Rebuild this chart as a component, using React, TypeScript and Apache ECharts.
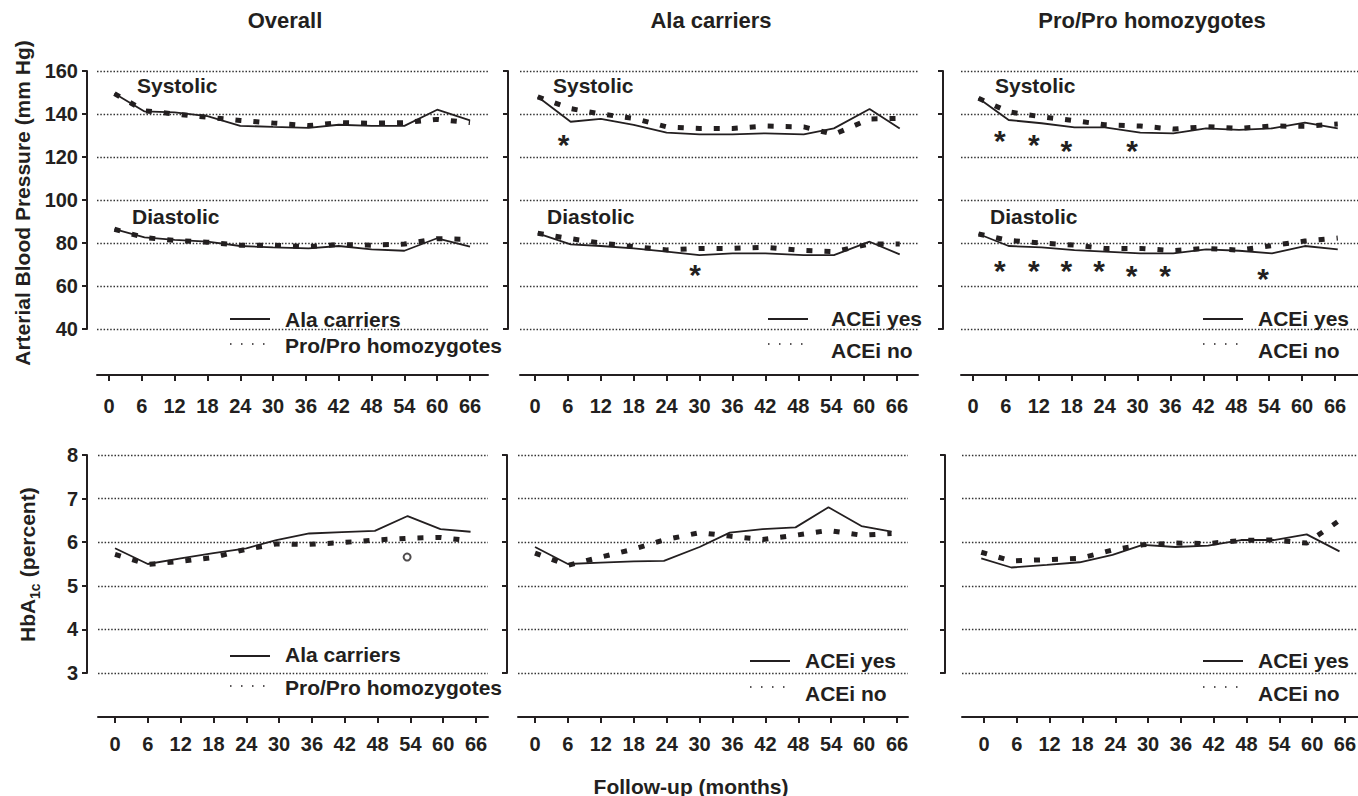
import React, { useEffect, useRef } from "react";
import * as echarts from "echarts";

const FONT = "'Liberation Sans', Arial, Helvetica, sans-serif";
const INK = "#231f20";

// ---------- data ----------
const xTicks = [0, 6, 12, 18, 24, 30, 36, 42, 48, 54, 60, 66];
const panelTitles = ["Overall", "Ala carriers", "Pro/Pro homozygotes"];
const overallNames = ["Ala carriers", "Pro/Pro homozygotes"];
const aceNames = ["ACEi yes", "ACEi no"];

// months at which values were plotted (per panel)
const monthsTopOverall = [1, 6.5, 12, 18, 24, 30, 36.5, 42, 48, 54, 60, 66];
const monthsTopAla = [0.5, 6.5, 12, 18, 24, 30, 36, 42, 49, 54.5, 61, 66.5];
const monthsTopPro = [1, 6.5, 12.5, 18.5, 24, 30.5, 36.5, 42.5, 48.5, 54.5, 60.5, 66.5];
const monthsBotOverall = [0, 6, 12, 18, 24, 29.5, 35.5, 41.5, 47.5, 53.5, 59.5, 65];
const monthsBotAla = [0, 6, 12, 18, 23.5, 30, 35.5, 41.5, 47.5, 53.5, 59.5, 65];
const monthsBotPro = [-0.5, 5, 11.5, 17.5, 23.5, 29, 35, 41, 47, 53, 59, 65];

// Overall: Ala carriers vs Pro/Pro homozygotes
const sysOverallAla = [149.5, 141.2, 140.8, 139, 134.5, 134, 133.5, 135, 134.5, 134.5, 142, 137];
const sysOverallPro = [149.5, 141.5, 140, 138.5, 137, 135.8, 134.6, 136, 135.7, 136, 137.5, 136];
const diaOverallAla = [86.4, 82.6, 81.5, 80.6, 78.6, 78, 77.5, 78.6, 77, 76.4, 82.2, 78.3];
const diaOverallPro = [86.4, 82.5, 81.2, 80.4, 79, 79, 78.3, 79.3, 79, 79.5, 82, 81.7];
const hbaOverallAla = [5.86, 5.5, 5.63, 5.75, 5.86, 6.05, 6.2, 6.23, 6.26, 6.6, 6.3, 6.24];
const hbaOverallPro = [5.72, 5.49, 5.56, 5.65, 5.84, 5.96, 5.95, 5.99, 6.05, 6.09, 6.11, 6.03];

// Ala carriers: ACEi yes vs no
const sysAlaYes = [148, 136.4, 137.7, 134.9, 131.3, 130.5, 130.5, 131, 130.5, 133.3, 142.3, 133.3];
const sysAlaNo = [148, 142.5, 140, 138, 134, 133.3, 133.3, 134.4, 134, 130.5, 137.7, 138];
const diaAlaYes = [84.5, 79.4, 78.6, 77.5, 76, 74.4, 75.2, 75.2, 74.4, 74.4, 80.6, 74.7];
const diaAlaNo = [84.5, 82, 80, 78.3, 76.8, 77.5, 77.5, 78, 76.5, 76, 79.5, 79.5];
const hbaAlaYes = [5.89, 5.5, 5.53, 5.56, 5.57, 5.89, 6.22, 6.3, 6.34, 6.8, 6.37, 6.24];
const hbaAlaNo = [5.75, 5.47, 5.66, 5.84, 6.05, 6.22, 6.14, 6.06, 6.16, 6.27, 6.16, 6.2];

// Pro/Pro homozygotes: ACEi yes vs no
const sysProYes = [147.3, 137.2, 135.7, 133.8, 133.8, 131.3, 131, 133.3, 132.6, 133.3, 136, 133.3];
const sysProNo = [147.3, 141, 138.7, 136.9, 135, 134.4, 133, 134.1, 133.3, 134.4, 134.3, 135.3];
const diaProYes = [84.2, 78.6, 78, 76.7, 76, 75.2, 75.2, 77, 76.4, 75.2, 78.6, 77];
const diaProNo = [84.2, 81.2, 80, 79, 77.5, 77.5, 76.5, 77.5, 76.7, 78.8, 80.9, 82.3];
const hbaProYes = [5.63, 5.42, 5.48, 5.54, 5.71, 5.94, 5.89, 5.92, 6.05, 6.05, 6.18, 5.79];
const hbaProNo = [5.77, 5.57, 5.6, 5.63, 5.82, 5.94, 5.98, 5.97, 6.04, 6.05, 5.98, 6.5];

// significance markers (month, value)
const starsAla = [[5.2, 129.4], [29.2, 69.0]];
const starsPro = [
  [4.9, 131.3], [11.1, 129.4], [17, 126.7], [29, 126.7],
  [4.9, 70.8], [11.1, 70.8], [17, 70.8], [23, 70.8], [28.9, 68.5], [35, 68.5], [52.9, 67.4],
];
const circleOverall = [[53.4, 5.66]];

// ---------- layout ----------
const TOP_Y = 71, TOP_H = 258, BOT_Y = 455, BOT_H = 218;
const gridsTop = [
  { left: 97, width: 391, yOff: 10, xMin: -2.19, xMax: 69.29 },
  { left: 520, width: 398, yOff: 12, xMin: -2.73, xMax: 69.83 },
  { left: 961, width: 397, yOff: 18, xMin: -2.19, xMax: 70.19 },
];
const gridsBot = [
  { left: 98, width: 390, yOff: 11, xMin: -3.11, xMax: 68.19 },
  { left: 518, width: 390, yOff: 11, xMin: -3.1, xMax: 68.0 },
  { left: 962, width: 396, yOff: 17, xMin: -4.02, xMax: 68.38 },
];

const pairs = (m: number[], v: number[]) => m.map((x, i) => [x, v[i]]);

function buildOption() {
  const grid: any[] = [];
  const xAxis: any[] = [];
  const yAxis: any[] = [];
  const series: any[] = [];

  const gridLine = { show: true, lineStyle: { color: "#333", width: 1.3, type: [1.5, 1.8] } };

  const addGrid = (g: any, top: number, h: number, isTop: boolean, showY: boolean) => {
    grid.push({ left: g.left, top, width: g.width, height: h, show: false, outerBoundsMode: "none" });
    const idx = grid.length - 1;
    xAxis.push({
      type: "value", gridIndex: idx, min: g.xMin, max: g.xMax,
      offset: isTop ? 46 : 44,
      axisLine: { show: true, onZero: false, lineStyle: { color: INK, width: 2 } },
      axisTick: { show: true, length: 6, lineStyle: { color: INK, width: 2 }, customValues: xTicks },
      axisLabel: {
        show: true, customValues: xTicks, margin: isTop ? 21 : 17,
        fontSize: 20, fontWeight: "bold", color: INK, fontFamily: FONT,
      },
      splitLine: { show: false },
    });
    yAxis.push({
      type: "value", gridIndex: idx,
      min: isTop ? 40 : 3, max: isTop ? 160 : 8, interval: isTop ? 20 : 1,
      offset: g.yOff,
      axisLine: { show: true, onZero: false, lineStyle: { color: INK, width: 2 } },
      axisTick: { show: true, length: 5, lineStyle: { color: INK, width: 2 } },
      axisLabel: {
        show: showY, margin: 9, fontSize: 20, fontWeight: "bold", color: INK, fontFamily: FONT,
      },
      splitLine: gridLine,
    });
    return idx;
  };

  const solid = (name: string, data: any[], idx: number) => ({
    type: "line", name, data, xAxisIndex: idx, yAxisIndex: idx, symbol: "none", silent: true,
    lineStyle: { color: INK, width: 1.8 }, z: 3,
  });
  const dotted = (name: string, data: any[], idx: number) => ({
    type: "line", name, data, xAxisIndex: idx, yAxisIndex: idx, symbol: "none", silent: true,
    lineStyle: { color: INK, width: 5, type: [6, 12], cap: "butt" }, z: 2,
  });
  const stars = (data: any[], idx: number) => ({
    type: "scatter", data, xAxisIndex: idx, yAxisIndex: idx, symbolSize: 0.1, silent: true,
    itemStyle: { color: INK },
    label: {
      show: true, formatter: "*", position: "inside", offset: [0, 8],
      fontSize: 30, fontWeight: "bold", color: INK, fontFamily: FONT,
      textBorderWidth: 0, opacity: 1,
    },
  });

  // top row
  const topSets = [
    { m: monthsTopOverall, names: overallNames, s: [sysOverallAla, sysOverallPro], d: [diaOverallAla, diaOverallPro] },
    { m: monthsTopAla, names: aceNames, s: [sysAlaYes, sysAlaNo], d: [diaAlaYes, diaAlaNo] },
    { m: monthsTopPro, names: aceNames, s: [sysProYes, sysProNo], d: [diaProYes, diaProNo] },
  ];
  topSets.forEach((set, i) => {
    const idx = addGrid(gridsTop[i], TOP_Y, TOP_H, true, i === 0);
    series.push(solid(set.names[0], pairs(set.m, set.s[0]), idx));
    series.push(dotted(set.names[1], pairs(set.m, set.s[1]), idx));
    series.push(solid(set.names[0], pairs(set.m, set.d[0]), idx));
    series.push(dotted(set.names[1], pairs(set.m, set.d[1]), idx));
  });
  series.push(stars(starsAla, 1));
  series.push(stars(starsPro, 2));

  // bottom row
  const botSets = [
    { m: monthsBotOverall, names: overallNames, h: [hbaOverallAla, hbaOverallPro] },
    { m: monthsBotAla, names: aceNames, h: [hbaAlaYes, hbaAlaNo] },
    { m: monthsBotPro, names: aceNames, h: [hbaProYes, hbaProNo] },
  ];
  botSets.forEach((set, i) => {
    const idx = addGrid(gridsBot[i], BOT_Y, BOT_H, false, i === 0);
    series.push(solid(set.names[0], pairs(set.m, set.h[0]), idx));
    series.push(dotted(set.names[1], pairs(set.m, set.h[1]), idx));
  });
  series.push({
    type: "scatter", data: circleOverall, xAxisIndex: 3, yAxisIndex: 3, silent: true,
    symbol: "emptyCircle", symbolSize: 7,
    itemStyle: { color: INK, borderColor: INK, borderWidth: 1.5 },
  });

  // ---------- graphic texts & legends ----------
  const txt = (text: string, x: number, y: number, size: number, align = "left", extra: any = {}) => ({
    type: "text", x, y, silent: true, ...extra,
    style: {
      text, fill: INK, fontSize: size, fontWeight: "bold", fontFamily: FONT,
      align, textAlign: align, verticalAlign: "middle", textVerticalAlign: "middle",
    },
  });
  const graphic: any[] = [];
  const titleX = [285, 711, 1152];
  panelTitles.forEach((t, i) => graphic.push(txt(t, titleX[i], 20, 22, "center")));

  graphic.push(txt("Arterial Blood Pressure (mm Hg)", 22, 203, 21, "center", { rotation: Math.PI / 2 }));
  graphic.push({
    type: "group", x: 27.6, y: 642, rotation: Math.PI / 2, silent: true,
    children: [
      txt("HbA", 0, 0, 21),
      txt("1c", 43, 7, 14),
      txt(" (percent)", 59, 0, 21),
    ],
  });
  graphic.push(txt("Follow-up (months)", 691, 786, 21, "center"));

  const sysDiaPos = [
    { sx: 137, dx: 132 },
    { sx: 553, dx: 547 },
    { sx: 995, dx: 990 },
  ];
  sysDiaPos.forEach((p) => {
    graphic.push(txt("Systolic", p.sx, 85, 21));
    graphic.push(txt("Diastolic", p.dx, 216, 21));
  });

  const legends = [
    { x: 230, tx: 285, y1: 319, y2: 344, t1: 319, t2: 345, names: overallNames },
    { x: 768, tx: 831, y1: 319, y2: 344, t1: 318, t2: 350, names: aceNames },
    { x: 1203, tx: 1258, y1: 319, y2: 344, t1: 318, t2: 350, names: aceNames },
    { x: 230, tx: 285, y1: 656, y2: 686, t1: 654, t2: 687, names: overallNames },
    { x: 750, tx: 805, y1: 661, y2: 687, t1: 660, t2: 693, names: aceNames },
    { x: 1203, tx: 1258, y1: 661, y2: 687, t1: 660, t2: 693, names: aceNames },
  ];
  legends.forEach((l) => {
    graphic.push({
      type: "line", silent: true,
      shape: { x1: l.x, y1: l.y1, x2: l.x + 40, y2: l.y1 },
      style: { stroke: INK, lineWidth: 1.8 },
    });
    graphic.push({
      type: "line", silent: true,
      shape: { x1: l.x, y1: l.y2, x2: l.x + 36, y2: l.y2 },
      style: { stroke: INK, lineWidth: 1.5, lineDash: [1.5, 9.5] },
    });
    graphic.push(txt(l.names[0], l.tx, l.t1, 21));
    graphic.push(txt(l.names[1], l.tx, l.t2, 21));
  });

  return {
    animation: false,
    backgroundColor: "#ffffff",
    textStyle: { fontFamily: FONT, fontWeight: "bold", color: INK },
    grid, xAxis, yAxis, series, graphic,
  };
}

export default function App() {
  const ref = useRef<HTMLDivElement>(null);
  useEffect(() => {
    if (!ref.current) return;
    const chart = echarts.init(ref.current, null, { renderer: "svg", width: 1358, height: 796 });
    chart.setOption(buildOption() as any);
    return () => chart.dispose();
  }, []);
  return (
    <div
      ref={ref}
      style={{ position: "absolute", left: 0, top: 0, width: 1358, height: 796, background: "#fff" }}
    />
  );
}
